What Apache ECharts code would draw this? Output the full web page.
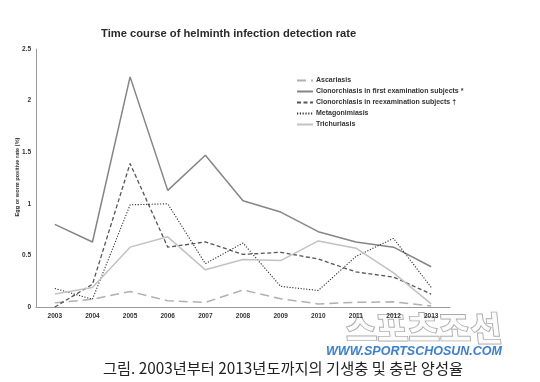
<!DOCTYPE html>
<html><head><meta charset="utf-8">
<script src="https://cdn.jsdelivr.net/npm/echarts@6/dist/echarts.min.js"></script>
<style>html,body{margin:0;padding:0;background:#fff}#c{width:540px;height:382px}</style>
</head><body><div id="c"></div>
<script>
const years = ['2003','2004','2005','2006','2007','2008','2009','2010','2011','2012','2013'];
const ascariasis = [0.04,0.075,0.15,0.06,0.045,0.165,0.08,0.03,0.045,0.05,0.01];
const clonoFirst = [0.80,0.63,2.23,1.13,1.47,1.03,0.92,0.73,0.63,0.58,0.39];
const clonoReexam = [0.0,0.22,1.39,0.58,0.63,0.51,0.53,0.465,0.34,0.29,0.125];
const metagonimiasis = [0.18,0.075,0.99,1.0,0.42,0.62,0.20,0.16,0.49,0.665,0.19];
const trichuriasis = [0.125,0.19,0.58,0.68,0.36,0.46,0.45,0.64,0.57,0.33,0.03];
const seriesNames = ['Ascariasis','Clonorchiasis in first examination subjects *','Clonorchiasis in reexamination subjects \u2020','Metagonimiasis','Trichuriasis'];
const yTicks = ['0','0.5','1','1.5','2','2.5'];

const FONT = 'Liberation Sans, Arial, sans-serif';
const chart = echarts.init(document.getElementById('c'), null, {renderer:'canvas'});
function mk(name, data, color, width, type){
  return {name, type:'line', data, symbol:'none', showSymbol:false, smooth:false,
    lineStyle:{color, width, type}, itemStyle:{color}, animation:false, z:2};
}
chart.setOption({
  animation:false,
  backgroundColor:'#fff',
  title:{text:'Time course of helminth infection detection rate', left:101, top:28, padding:0,
    textStyle:{fontFamily:FONT, fontSize:11.2, fontWeight:'bold', color:'#2a2a2a'}},
  legend:{orient:'vertical', left:296, top:77, padding:0, itemWidth:16, itemHeight:6, itemGap:4,
    data:seriesNames, itemStyle:{opacity:0},
    textStyle:{fontFamily:FONT, fontSize:7, fontWeight:'bold', color:'#333', padding:[0,0,0,-2]}},
  grid:{left:36, top:49, width:414, height:258, containLabel:false},
  xAxis:{type:'category', data:years, boundaryGap:true,
    axisLine:{lineStyle:{color:'#999', width:1}}, axisTick:{show:false},
    axisLabel:{fontFamily:FONT, fontSize:6.5, fontWeight:'bold', color:'#333', margin:6}},
  yAxis:{type:'value', min:0, max:2.5, interval:0.5,
    axisLine:{show:true, lineStyle:{color:'#999', width:1}}, axisTick:{show:false},
    splitLine:{show:false},
    axisLabel:{fontFamily:FONT, fontSize:6.5, fontWeight:'bold', color:'#333', margin:5,
      formatter:(v)=>yTicks[Math.round(v/0.5)]}},
  graphic:[
    {type:'text', x:17, y:177, rotation:Math.PI/2,
      style:{text:'Egg or worm positive rate (%)', fontFamily:FONT, fontSize:5.6, fontWeight:'bold',
        fill:'#333', align:'center', verticalAlign:'middle'}},
    {type:'text', x:283, y:368,
      style:{text:'그림. 2003년부터 2013년도까지의 기생충 및 충란 양성율', fontFamily:'Noto Sans CJK KR', fontSize:15.3,
        fill:'#222', align:'center', verticalAlign:'middle'}},
    {type:'text', x:420, y:328, skewX:0.35,
      style:{text:'스포츠조선', fontFamily:'Noto Sans CJK KR', fontSize:34, fontWeight:'bold', fontStyle:'italic',
        fill:'#fbfbfb', stroke:'#aaaaaa', lineWidth:1.8, align:'center', verticalAlign:'middle'}},
    {type:'text', x:414, y:352,
      style:{text:'WWW.SPORTSCHOSUN.COM', fontFamily:FONT, fontSize:12.5, fontWeight:'bold', fontStyle:'italic',
        fill:'#3b7fd0', align:'center', verticalAlign:'middle'}}
  ],
  series:[
    mk(seriesNames[0], ascariasis, '#b0b0b0', 1.5, [9,5]),
    mk(seriesNames[1], clonoFirst, '#858585', 1.5, 'solid'),
    mk(seriesNames[2], clonoReexam, '#555555', 1.3, [4,2.5]),
    mk(seriesNames[3], metagonimiasis, '#333333', 1.1, [1.2,1.6]),
    mk(seriesNames[4], trichuriasis, '#c2c2c2', 1.5, 'solid')
  ]
});
</script></body></html>
